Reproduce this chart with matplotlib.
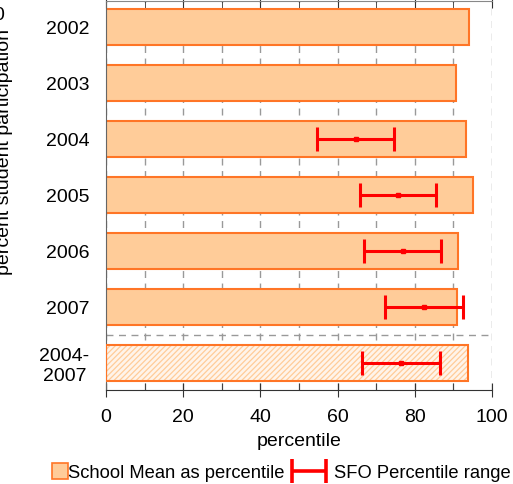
#!/usr/bin/env python3
"""Horizontal bars of school mean percentile per year with SFO percentile ranges."""

import matplotlib
matplotlib.use("Agg")
import matplotlib.pyplot as plt
import matplotlib.patches as mpatches
from matplotlib.legend_handler import HandlerErrorbar, HandlerPatch
from matplotlib.ticker import MultipleLocator

# data
years = ["2002", "2003", "2004", "2005", "2006", "2007", "2004-\n2007"]
school_mean = [94.0, 90.6, 93.3, 95.1, 91.1, 90.9, 93.7]
sfo_mid = [None, None, 64.8, 75.6, 76.9, 82.3, 76.4]
sfo_low = [None, None, 54.7, 65.7, 66.8, 72.4, 66.3]
sfo_high = [None, None, 74.7, 85.6, 86.9, 92.4, 86.5]

FILL = "#FFCC99"
EDGE = "#FF7526"
RED = "#FF0000"

plt.rcParams["font.family"] = ["Liberation Sans", "DejaVu Sans"]
plt.rcParams["hatch.linewidth"] = 0.9

W, H = 513, 484
fig = plt.figure(figsize=(W / 100, H / 100), dpi=100)
ax = fig.add_axes([106 / W, 1 - 390 / H, 386 / W, 389.5 / H])

pos = list(range(len(years)))
n_single = len(years) - 1

# yearly bars
ax.barh(pos[:n_single], school_mean[:n_single], height=0.64,
        color=FILL, edgecolor=EDGE, linewidth=1.5, zorder=2)
# combined period bar: hatched fill, then outline
ax.barh(pos[-1], school_mean[-1], height=0.64, color="#FFF4EA",
        edgecolor=FILL, hatch="//////", linewidth=0, zorder=2)
ax.barh(pos[-1], school_mean[-1], height=0.64, fill=False,
        edgecolor=EDGE, linewidth=1.5, zorder=3)

# SFO percentile ranges
ey, ex, elo, ehi = [], [], [], []
for p, m, lo, hi in zip(pos, sfo_mid, sfo_low, sfo_high):
    if m is None:
        continue
    ey.append(p)
    ex.append(m)
    elo.append(m - lo)
    ehi.append(hi - m)
ax.errorbar(ex, ey, xerr=[elo, ehi], fmt="s", color=RED, ms=3,
            elinewidth=2.2, capsize=8.5, capthick=2.2, zorder=4)
# legend proxy without the centre marker (drawn outside the view)
proxy = ax.errorbar([-50], [0], xerr=[[1], [1]], fmt="none", ecolor=RED,
                    elinewidth=2.6, capsize=8.5, capthick=2.6)

ax.axhline(5.5, color="#999999", linestyle=(0, (5, 4)), linewidth=1, zorder=1)

ax.set_xlim(0, 100)
ax.set_ylim(6.48, -0.48)
ax.set_yticks(pos)
ax.set_yticklabels(years, fontsize=14)
for lab in ax.get_yticklabels():
    lab.set_multialignment("center")
ax.tick_params(axis="y", length=0, pad=12)

ax.xaxis.set_major_locator(MultipleLocator(20))
ax.xaxis.set_minor_locator(MultipleLocator(10))
ax.tick_params(axis="x", which="major", direction="inout", length=10,
               labelsize=14, pad=9, top=True, color="#333333")
ax.tick_params(axis="x", which="minor", direction="in", length=5,
               top=True, color="#333333")
ax.grid(axis="x", which="both", color="#999999", linestyle=(0, (5, 4)),
        linewidth=1)
ax.set_axisbelow(True)

ax.spines["right"].set_visible(False)
ax.spines["top"].set_color("#888888")
ax.spines["left"].set_color("#666666")
ax.spines["bottom"].set_color("#333333")

ax.set_xlabel("percentile", fontsize=14, labelpad=5)

fig.text(13 / W, 1 - 152 / H, "percent student participation", rotation=90,
         ha="right", va="center", fontsize=14)
fig.text(4 / W, 1 - 16 / H, "0", ha="right", va="center", fontsize=14)


def square_patch(legend, orig_handle, xdescent, ydescent, width, height,
                 fontsize):
    side = 0.88 * fontsize
    return mpatches.Rectangle((width + 6 - side - xdescent,
                               -ydescent + (height - side) / 2), side, side)


school_handle = mpatches.Patch(facecolor=FILL, edgecolor=EDGE, linewidth=1.2)
fig.legend([school_handle, proxy],
           ["School Mean as percentile", "SFO Percentile range"],
           loc="center left", bbox_to_anchor=(26 / W, 1 - 473 / H),
           ncol=2, frameon=False, fontsize=13.2, borderpad=0,
           borderaxespad=0, handlelength=1.85, handletextpad=0.45,
           columnspacing=0.4,
           handler_map={mpatches.Patch: HandlerPatch(patch_func=square_patch),
                        type(proxy): HandlerErrorbar(xerr_size=0.94)})

fig.savefig("out.png", dpi=100)
